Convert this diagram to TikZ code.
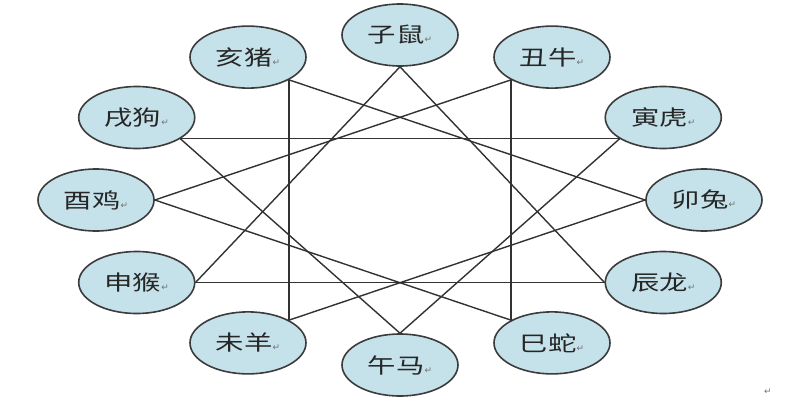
\documentclass[tikz,border=0pt]{standalone}
\usepackage{fontspec}
\newfontfamily\cjk[FakeStretch=1.35]{Noto Sans CJK SC}
\newfontfamily\symb{DejaVu Sans}
\definecolor{cellblue}{RGB}{197,225,233}
\definecolor{rim}{RGB}{60,60,60}
\definecolor{wire}{RGB}{50,50,50}
\newcommand{\parmk}{{\color{black!55}\symb\fontsize{9}{9}\selectfont ↵}}
\tikzset{
  animal/.style={ellipse, draw=rim, line width=1.6pt, fill=cellblue,
    minimum width=116pt, minimum height=62pt, inner sep=0pt,
    font=\cjk\fontsize{21}{21}\selectfont, text=black!85},
  wireline/.style={draw=wire, line width=1.4pt},
  upright/.style={draw=wire, line width=1.9pt}
}
\usetikzlibrary{shapes.geometric}
\begin{document}
\begin{tikzpicture}[x=1pt, y=1pt, line join=round, line cap=round]
			\useasboundingbox (-400,-200) rectangle (400,200);
			\foreach \n/\a/\t in {zi/90/子鼠, chou/60/丑牛, yin/30/寅虎, mao/0/卯兔,
				chen/-30/辰龙, si/-60/巳蛇, wu/-90/午马, wei/-120/未羊,
				shen/-150/申猴, you/180/酉鸡, xu/150/戌狗, hai/120/亥猪}
				\node[animal] (\n) at (\a:304 and 165) {\t\parmk};
			% shen zi chen
			\draw[wireline] (zi.south)--(shen.east);
			\draw[wireline] (zi.south)--(chen.west);
			\draw[wireline] (shen.east)--(chen.west);
			% hai mao wei
			\draw[upright] (hai.-29)--(wei.29);
			\draw[wireline] (hai.-29)--(mao.west);
			\draw[wireline] (mao.west)--(wei.29);
			% yin wu xu
			\draw[wireline] (xu.-26)--(yin.-154);
			\draw[wireline] (xu.-26)--(wu.north);
			\draw[wireline] (yin.-154)--(wu.north);
			% si you chou
			\draw[upright] (chou.-151)--(si.151);
			\draw[wireline] (you.east)--(chou.-151);
			\draw[wireline] (you.east)--(si.151);
			\node (endmk) at (368,-192) {\parmk};
	\end{tikzpicture}
\end{document}
